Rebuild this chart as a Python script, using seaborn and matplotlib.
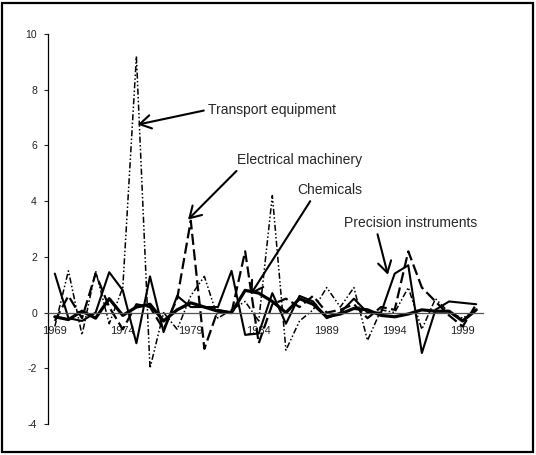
import numpy as np
import pandas as pd
import matplotlib
matplotlib.use("Agg")
import matplotlib.pyplot as plt
import seaborn as sns
from matplotlib.patches import Rectangle

years = list(range(1969, 2001))

transport = [-0.5, 1.5, -0.8, 1.5, -0.4, 0.9, 9.2, -2.0, 0.0, -0.6, 0.6, 1.3, -0.2, 0.1, 0.4, -0.3,
             4.2, -1.35, -0.3, 0.1, 0.9, 0.2, 0.9, -1.0, 0.1, 0.0, 0.9, -0.6, 0.5, 0.0, -0.2, 0.1]
electrical = [-0.3, 0.6, -0.2, 1.4, 0.2, -0.6, 0.3, 0.2, -0.6, 0.5, 3.3, -1.3, 0.1, 0.0, 2.2, -1.1,
              0.3, 0.5, 0.2, 0.6, 0.0, 0.1, 0.3, -0.2, 0.2, 0.1, 2.2, 0.9, 0.4, -0.1, -0.5, 0.3]
chemicals = [-0.15, -0.25, 0.05, -0.2, 0.5, -0.1, 0.2, 0.3, -0.3, 0.1, 0.35, 0.2, 0.05, 0.0, 0.8, 0.7,
             0.4, 0.0, 0.5, 0.3, -0.15, -0.05, 0.15, 0.1, -0.1, -0.15, -0.05, 0.1, 0.05, 0.05, -0.3, 0.1]
precision = [1.4, -0.2, -0.3, 0.0, 1.45, 0.8, -1.1, 1.3, -0.7, 0.6, 0.2, 0.2, 0.2, 1.5, -0.8, -0.75,
             0.7, -0.4, 0.6, 0.4, -0.2, 0.0, 0.5, 0.0, 0.0, 1.4, 1.7, -1.45, 0.1, 0.4, 0.35, 0.3]

xtick_years = [1969, 1974, 1979, 1984, 1989, 1994, 1999]
yticks = [-4, -2, 0, 2, 4, 6, 8, 10]

sns.set_style("white")
plt.rcParams["font.family"] = ["Liberation Sans", "DejaVu Sans"]
plt.rcParams["axes.unicode_minus"] = False

fig = plt.figure(figsize=(5.36, 4.55), dpi=100)
ax = fig.add_axes([0.0896, 0.0681, 0.8116, 0.857])

sns.lineplot(x=years, y=transport, ax=ax, color="black", lw=1.1,
             linestyle=(0, (4, 1.5, 1, 1.5, 1, 1.5)))
sns.lineplot(x=years, y=electrical, ax=ax, color="black", lw=1.6,
             linestyle=(0, (5, 2)))
sns.lineplot(x=years, y=chemicals, ax=ax, color="black", lw=2.3)
sns.lineplot(x=years, y=precision, ax=ax, color="black", lw=1.5)

ax.set_xlim(1968.5, 2000.5)
ax.set_ylim(-4, 10)
ax.set_yticks(yticks)
ax.set_xticks(xtick_years)
ax.set_xticklabels([str(y) for y in xtick_years])

for s in ["top", "right"]:
    ax.spines[s].set_visible(False)
ax.spines["bottom"].set_position(("data", 0))
ax.spines["bottom"].set_color("#555555")
ax.spines["bottom"].set_linewidth(0.9)
ax.spines["left"].set_color("black")
ax.spines["left"].set_linewidth(0.9)

ax.tick_params(axis="x", length=0, pad=10, labelsize=8, labelcolor="#222222")
ax.tick_params(axis="y", direction="out", length=3, width=0.8, pad=5, labelsize=7.5,
               labelcolor="#222222", left=True)

arrow = dict(arrowstyle="->,head_length=0.5,head_width=0.3", lw=1.5, color="black",
             mutation_scale=16, shrinkA=1, shrinkB=0)
ax.annotate("Transport equipment", xy=(1975.1, 6.75), xytext=(1980.3, 7.29),
            fontsize=10, ha="left", va="center",
            arrowprops=dict(arrow, relpos=(0, 0.5)))
ax.annotate("Electrical machinery", xy=(1978.8, 3.34), xytext=(1982.4, 5.49),
            fontsize=10, ha="left", va="center",
            arrowprops=dict(arrow, relpos=(0.03, 0)))
ax.annotate("Chemicals", xy=(1983.4, 0.65), xytext=(1986.8, 4.41),
            fontsize=10, ha="left", va="center",
            arrowprops=dict(arrow, relpos=(0.25, 0)))
ax.annotate("Precision instruments", xy=(1993.5, 1.36), xytext=(1990.3, 3.23),
            fontsize=10, ha="left", va="center",
            arrowprops=dict(arrow, relpos=(0.24, 0)))

fig.patches.append(Rectangle((0.004, 0.006), 0.99, 0.987, transform=fig.transFigure,
                             fill=False, lw=1.6, ec="black"))

fig.savefig("out.png", dpi=100)
